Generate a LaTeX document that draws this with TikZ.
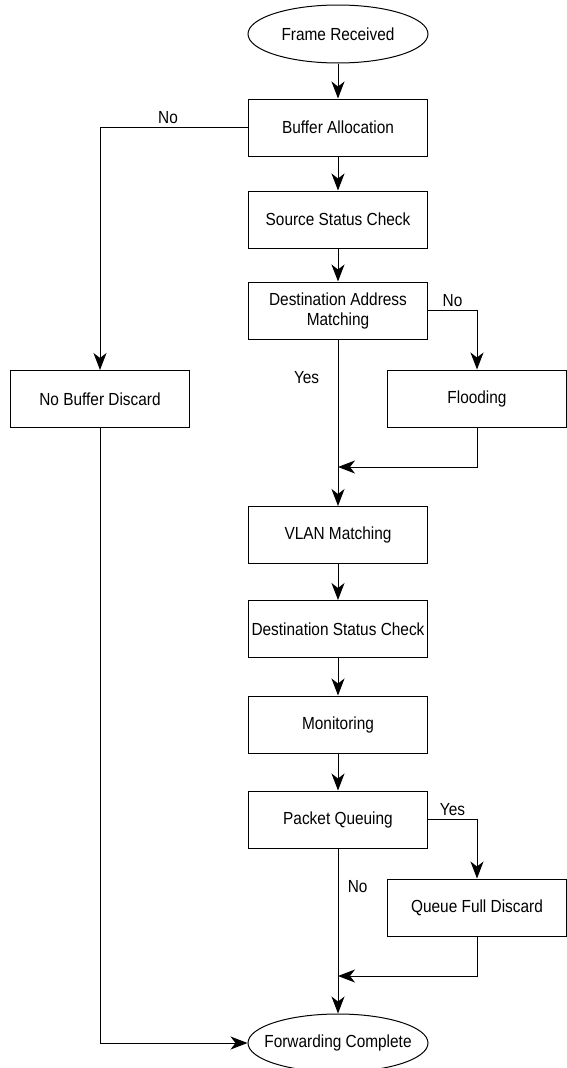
\documentclass[tikz,border=0pt]{standalone}
\usepackage{fontspec}
\setmainfont[FakeStretch=0.88]{Liberation Sans}
\usetikzlibrary{shapes.geometric,arrows.meta,positioning,calc}

\begin{document}
\begin{tikzpicture}[x=1pt, y=-1pt, >={Stealth[length=17pt,width=13pt,inset=5pt]},
  line width=1pt, font=\fontsize{17.5}{20}\selectfont,
  every box/.style={draw, minimum width=179pt, minimum height=57pt, align=center, inner sep=2pt},
  every terminal/.style={draw, ellipse, minimum width=180pt, minimum height=58pt,
    inner ysep=0pt, inner xsep=-25pt}]

\useasboundingbox (0,0) rectangle (567,1068);

\node [every terminal] (recv) at (338,34) {Frame Received};
\node [every terminal] (fwd) at (338,1043) {Forwarding Complete};

\foreach \n/\t/\y in {buffer/Buffer Allocation/127.5, source/Source Status Check/219.5,
    dam/{Destination Address\\Matching}/310.5, vlan/VLAN Matching/535,
    dstatus/Destination Status Check/629, monitor/Monitoring/724.5,
    queue/Packet Queuing/819.5}
  \node [every box] (\n) at (338,\y) {\t};

\node [every box] (nobuf) at (100,399) {No Buffer Discard};
\node [every box] (flood) at (477,398.5) {Flooding};
\node [every box] (qfull) at (477,907.5) {Queue Full Discard};

\coordinate (flood-join) at (338,467);
\coordinate (qfull-join) at (338,976);

\draw [->] (recv) -- (buffer);
\draw [->] (buffer) -- (source);
\draw [->] (source) -- (dam);
\draw [->] (dam) -- (vlan) node [left=15pt, pos=0.23] {Yes};
\draw [->] (vlan) -- (dstatus);
\draw [->] (dstatus) -- (monitor);
\draw [->] (monitor) -- (queue);
\draw [->] (queue) -- (fwd) node [right=6pt, pos=0.23] {No};

\draw [->] (buffer.west) -| (nobuf.north) node [above, pos=0.27] {No};
\draw [->] (dam.east) -| (flood.north) node [above, pos=0.25] {No};
\draw [->] (queue.east) -| (qfull.north) node [above, pos=0.25] {Yes};

\draw [->] (flood.south) |- (flood-join);
\draw [->] (qfull.south) |- (qfull-join);
\draw [->] (nobuf.south) |- (fwd.west);

\end{tikzpicture}
\end{document}
